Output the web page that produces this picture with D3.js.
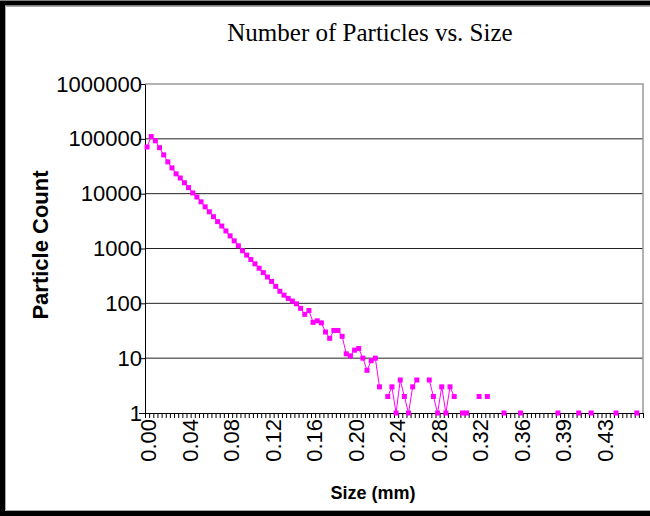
<!DOCTYPE html>
<html>
<head>
<meta charset="utf-8">
<script src="https://cdn.jsdelivr.net/npm/d3@7"></script>
<style>
  body { margin: 0; background: #fff; overflow: hidden; }
  svg { display: block; }
</style>
</head>
<body>
<svg id="chart" width="650" height="516"></svg>
<script>
// x tick labels, shown on every 10th size class
const sizeLabels = ["0.00", "0.04", "0.08", "0.12", "0.16", "0.20", "0.24", "0.28", "0.32", "0.36", "0.39", "0.43"];
const labelEvery = 10;

// particle count per size class (0 = no particles, left as a gap)
const counts = [
    71000, 110000, 92000, 69000, 51000, 38000, 29500, 23000, 19300, 15800,
    12900, 10300, 8700, 7100, 5750, 4680, 3800, 3090, 2570, 2090,
    1700, 1380, 1120, 912, 759, 631, 525, 437, 363, 302,
    251, 204, 166, 141, 123, 110, 98, 81, 63, 74,
    45, 48, 44, 30, 23, 32, 32, 25, 12, 11,
    14, 15, 10, 6, 9, 10, 3, 0, 2, 3,
    1, 4, 2, 1, 3, 4, 0, 0, 4, 2,
    1, 3, 1, 3, 2, 0, 1, 1, 0, 0,
    2, 0, 2, 0, 0, 0, 1, 0, 0, 0,
    1, 0, 0, 0, 0, 0, 0, 0, 0, 1,
    0, 0, 0, 0, 1, 0, 0, 1, 0, 0,
    0, 0, 0, 1, 0, 0, 0, 0, 1, 0
];

const yTicks = [1, 10, 100, 1000, 10000, 100000, 1000000];

const svg = d3.select("#chart");
const plot = { left: 145, right: 643, top: 84, bottom: 413 };
const pink = "#ff00ff";
const sans = "Liberation Sans, Arial, sans-serif";

// chart border: left, top, bottom only (right edge is cropped in the original)
svg.append("path")
    .attr("d", "M660,3H2.5V513.5H660")
    .attr("fill", "none").attr("stroke", "#000").attr("stroke-width", 5);
svg.append("path")
    .attr("d", "M660,6.5H5.5V510.5H660")
    .attr("fill", "none").attr("stroke", "#aaa").attr("stroke-width", 1);

// scales
const n = counts.length;
const xEdge = d3.scaleLinear().domain([0, n]).range([plot.left, plot.right]);
const xc = i => xEdge(i + 0.5);
const y = d3.scaleLog().domain([1, 1000000]).range([plot.bottom, plot.top]);

// gridlines
svg.append("g")
    .selectAll("line")
    .data(yTicks.slice(1, -1))
    .enter()
    .append("line")
    .attr("x1", plot.left).attr("x2", plot.right)
    .attr("y1", d => y(d)).attr("y2", d => y(d))
    .attr("stroke", "#222").attr("stroke-width", 1);

// plot area border top/right (gray)
svg.append("path")
    .attr("d", `M${plot.left},${plot.top}H${plot.right}V${plot.bottom}`)
    .attr("fill", "none").attr("stroke", "#999").attr("stroke-width", 1.5);

// y axis
const yAxis = svg.append("g")
    .attr("transform", `translate(${plot.left},0)`)
    .call(d3.axisLeft(y).tickValues(yTicks).tickFormat(d3.format("d")).tickSize(6).tickSizeOuter(0));
yAxis.select(".domain").attr("stroke", "#000");
yAxis.selectAll("text")
    .attr("font-family", sans)
    .attr("font-size", 22)
    .attr("fill", "#000")
    .attr("x", -3);

// x axis: tick marks between every size class
const xAxis = svg.append("g")
    .attr("transform", `translate(0,${plot.bottom})`)
    .call(d3.axisBottom(xEdge).tickValues(d3.range(n + 1)).tickFormat("").tickSize(5).tickSizeOuter(0));
xAxis.select(".domain").attr("stroke", "#000");

// x labels, rotated
const labelAxis = svg.append("g")
    .attr("transform", `translate(0,${plot.bottom + 6})`)
    .call(d3.axisBottom(xEdge)
        .tickValues(sizeLabels.map((d, i) => i * labelEvery + 0.5))
        .tickFormat((d, i) => sizeLabels[i])
        .tickSize(0));
labelAxis.select(".domain").remove();
labelAxis.selectAll("text")
    .attr("font-family", sans)
    .attr("font-size", 22)
    .attr("fill", "#000")
    .attr("transform", "rotate(-90)")
    .attr("text-anchor", "end")
    .attr("x", 0).attr("y", 1)
    .attr("dx", 0).attr("dy", "0.35em");

// series line, broken where the count is zero
const line = d3.line()
    .defined(d => d > 0)
    .x((d, i) => xc(i))
    .y(d => y(d));

svg.append("path")
    .datum(counts)
    .attr("d", line)
    .attr("fill", "none")
    .attr("stroke", pink)
    .attr("stroke-width", 1);

const pts = counts.map((v, i) => ({ i, v })).filter(d => d.v > 0);
svg.selectAll("rect.pt")
    .data(pts)
    .enter()
    .append("rect")
    .attr("class", "pt")
    .attr("x", d => xc(d.i) - 2.5)
    .attr("y", d => y(d.v) - 2.5)
    .attr("width", 5).attr("height", 5)
    .attr("fill", pink);

// titles
svg.append("text")
    .attr("x", 370).attr("y", 41)
    .attr("text-anchor", "middle")
    .attr("font-family", "Liberation Serif, Times New Roman, serif")
    .attr("font-size", 25)
    .text("Number of Particles vs. Size");

svg.append("text")
    .attr("x", 373).attr("y", 499)
    .attr("text-anchor", "middle")
    .attr("font-family", sans)
    .attr("font-weight", "bold")
    .attr("font-size", 18)
    .text("Size (mm)");

svg.append("text")
    .attr("transform", "translate(48,245) rotate(-90)")
    .attr("text-anchor", "middle")
    .attr("font-family", sans)
    .attr("font-weight", "bold")
    .attr("font-size", 22)
    .text("Particle Count");
</script>
</body>
</html>
